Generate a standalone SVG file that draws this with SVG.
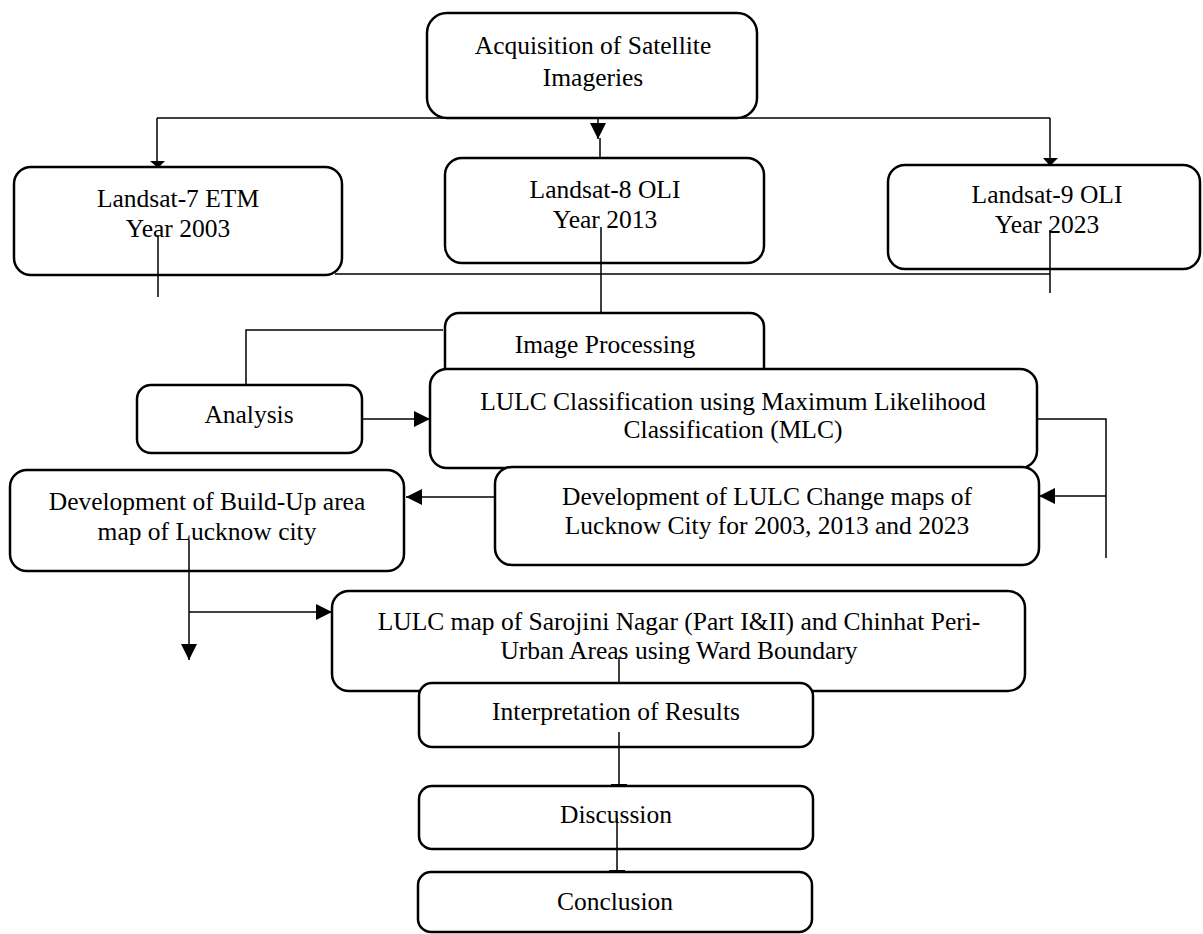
<svg xmlns="http://www.w3.org/2000/svg" width="1203" height="934" viewBox="0 0 1203 934">
<style>
.box{fill:#fff;stroke:#000;stroke-width:2.5}
.ln{fill:none;stroke:#000;stroke-width:1.5}
text{font-family:"Liberation Serif","Times New Roman",serif;font-size:25.5px;fill:#000;text-anchor:middle}
</style>
<defs>
<marker id="ah" markerUnits="userSpaceOnUse" markerWidth="16" markerHeight="16" viewBox="0 0 16 16" refX="16" refY="8" orient="auto">
<path d="M0,0 L16,8 L0,16 Z" fill="#000"/>
</marker>
<marker id="sm" markerUnits="userSpaceOnUse" markerWidth="16" markerHeight="8" viewBox="0 0 16 8" refX="6" refY="4" orient="auto">
<path d="M0,-4 L6,4 L0,12 Z" fill="#000" transform="translate(0,0)"/>
</marker>
</defs>
<g id="connectors">
<line class="ln" x1="157" y1="118" x2="1050" y2="118"/>
<line class="ln" x1="598" y1="85" x2="598" y2="139" marker-end="url(#ah)"/>
<line class="ln" x1="600" y1="138" x2="600" y2="158"/>
<line class="ln" x1="157" y1="118" x2="157" y2="162"/>
<path d="M150,161 L165,161 L158,168 Z" fill="#000"/>
<line class="ln" x1="1050" y1="118" x2="1050" y2="159"/>
<path d="M1043,158 L1058,158 L1050,166 Z" fill="#000"/>
</g>
<g id="n-acq"><rect class="box" x="427" y="13" width="330" height="105" rx="20"/>
<text x="593" y="54">Acquisition of Satellite</text><text x="593" y="86">Imageries</text></g>
<g id="n-l7"><rect class="box" x="14" y="167" width="328" height="108" rx="17"/>
<text x="178" y="207">Landsat-7 ETM</text><text x="178" y="237">Year 2003</text></g>
<g id="n-l8"><rect class="box" x="445" y="158" width="319" height="105" rx="17"/>
<text x="605" y="198">Landsat-8 OLI</text><text x="605" y="228">Year 2013</text></g>
<g id="n-l9"><rect class="box" x="888" y="165" width="312" height="104" rx="17"/>
<text x="1047" y="203">Landsat-9 OLI</text><text x="1047" y="233">Year 2023</text></g>
<g id="n-ip"><rect class="box" x="445" y="313" width="319" height="90" rx="14"/>
<text x="605" y="353">Image Processing</text></g>
<g id="n-lulc"><rect class="box" x="430" y="369" width="607" height="99" rx="17"/>
<text x="733" y="410">LULC Classification using Maximum Likelihood</text><text x="733" y="438">Classification (MLC)</text></g>
<g id="n-dev"><rect class="box" x="495" y="467" width="544" height="98" rx="17"/>
<text x="767" y="505">Development of LULC Change maps of</text><text x="767" y="534">Lucknow City for 2003, 2013 and 2023</text></g>
<g id="n-an"><rect class="box" x="137" y="385" width="225" height="68" rx="14"/>
<text x="249" y="423">Analysis</text></g>
<g id="n-bu"><rect class="box" x="10" y="470" width="394" height="101" rx="17"/>
<text x="207" y="510">Development of Build-Up area</text><text x="207" y="540">map of Lucknow city</text></g>
<g id="n-sar"><rect class="box" x="332" y="591" width="693" height="100" rx="17"/>
<text x="679" y="630">LULC map of Sarojini Nagar (Part I&amp;II) and Chinhat Peri-</text><text x="679" y="659">Urban Areas using Ward Boundary</text></g>
<g id="n-int"><rect class="box" x="419" y="683" width="394" height="64" rx="13"/>
<text x="616" y="720">Interpretation of Results</text></g>
<g id="n-dis"><rect class="box" x="419" y="786" width="394" height="63" rx="13"/>
<text x="616" y="823">Discussion</text></g>
<g id="n-con"><rect class="box" x="418" y="872" width="394" height="60" rx="13"/>
<text x="615" y="910">Conclusion</text></g>
<g id="connectors2">
<line class="ln" x1="158" y1="235" x2="158" y2="297"/>
<line class="ln" x1="1050" y1="230" x2="1050" y2="293"/>
<line class="ln" x1="335" y1="274" x2="1050" y2="274"/>
<line class="ln" x1="601" y1="227" x2="601" y2="313"/>
<polyline class="ln" points="246,385 246,330 443,330"/>
<line class="ln" x1="362" y1="419" x2="430" y2="419" marker-end="url(#ah)"/>
<polyline class="ln" points="1037,419 1106,419 1106,558"/>
<line class="ln" x1="1106" y1="496" x2="1039" y2="496" marker-end="url(#ah)"/>
<line class="ln" x1="495" y1="497" x2="406" y2="497" marker-end="url(#ah)"/>
<line class="ln" x1="189" y1="540" x2="189" y2="660" marker-end="url(#ah)"/>
<line class="ln" x1="189" y1="612" x2="332" y2="612" marker-end="url(#ah)"/>
<line class="ln" x1="619" y1="657" x2="619" y2="683"/>
<line class="ln" x1="619" y1="732" x2="619" y2="786"/>
<rect x="611" y="784" width="16" height="2.5" fill="#000"/>
<line class="ln" x1="617" y1="818" x2="617" y2="872"/>
<rect x="609" y="870" width="16" height="2.5" fill="#000"/>
</g>
</svg>
